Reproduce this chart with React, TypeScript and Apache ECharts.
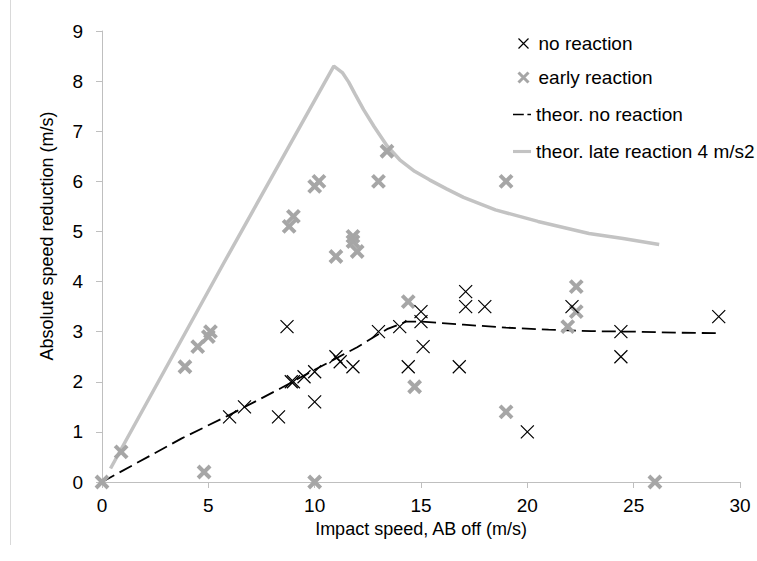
import React, { useEffect, useRef } from "react";
import * as echarts from "echarts";

const noReaction: [number, number][] = [
  [8.7, 3.1], [6.0, 1.3], [6.7, 1.5], [8.3, 1.3], [8.9, 2.0], [9.0, 2.0],
  [9.5, 2.1], [10.0, 2.2], [10.0, 1.6], [11.0, 2.5], [11.2, 2.4], [11.8, 2.3],
  [13.0, 3.0], [14.0, 3.1], [14.4, 2.3], [15.0, 3.4], [15.0, 3.2], [15.1, 2.7],
  [16.8, 2.3], [17.1, 3.8], [17.1, 3.5], [18.0, 3.5], [20.0, 1.0], [22.1, 3.5],
  [24.4, 3.0], [24.4, 2.5], [29.0, 3.3],
];

const earlyReaction: [number, number][] = [
  [0, 0], [0.9, 0.6], [3.9, 2.3], [4.5, 2.7], [5.0, 2.9], [5.1, 3.0], [4.8, 0.2],
  [8.8, 5.1], [9.0, 5.3], [10.0, 5.9], [10.2, 6.0], [11.0, 4.5], [11.8, 4.8],
  [11.8, 4.9], [12.0, 4.6], [13.0, 6.0], [13.4, 6.6], [14.4, 3.6], [14.7, 1.9],
  [19.0, 6.0], [19.0, 1.4], [21.9, 3.1], [22.3, 3.9], [22.3, 3.4], [10.0, 0],
  [26.0, 0],
];

const theorNoReaction: [number, number][] = [
  [0, 0], [3.75, 0.87], [6, 1.34], [8.4, 1.87], [10, 2.24], [12, 2.69],
  [13.4, 3.05], [14.3, 3.2], [15, 3.2], [17, 3.14], [19, 3.08], [21, 3.04],
  [23, 3.01], [25, 3.0], [27, 2.98], [28.9, 2.97],
];

const theorLateReaction: [number, number][] = [
  [0.4, 0.27], [5.7, 4.35], [10.9, 8.3], [11.3, 8.17], [11.6, 7.98], [11.9, 7.74],
  [12.3, 7.43], [12.8, 7.09], [13.4, 6.71], [14.0, 6.43], [14.7, 6.2], [15.4, 6.03],
  [16.2, 5.85], [17, 5.68], [18.5, 5.43], [20.5, 5.2], [22.9, 4.96], [24.5, 4.86],
  [26.2, 4.74],
];

const xTicks = { min: 0, max: 30, interval: 5 };
const yTicks = { min: 0, max: 9, interval: 1 };

const seriesNames = [
  "no reaction",
  "early reaction",
  "theor. no reaction",
  "theor. late reaction 4 m/s2",
];
const xTitle = "Impact speed, AB off (m/s)";
const yTitle = "Absolute speed reduction (m/s)";

const FONT = "'Liberation Sans', Arial, sans-serif";
const CROSS = "path://M0,0L10,10M10,0L0,10";
const DASH_ICON = "path://M0,0H12V1.8H0ZM16,0H20V1.8H16Z";
const SOLID_ICON = "path://M0,0H20V3.5H0Z";

export default function App() {
  const ref = useRef<HTMLDivElement>(null);
  useEffect(() => {
    document.body.style.margin = "0";
    if (!ref.current) return;
    const chart = echarts.init(ref.current, undefined, { renderer: "svg" });
    chart.setOption({
      animation: false,
      backgroundColor: "#ffffff",
      textStyle: { fontFamily: FONT },
      grid: { left: 102, right: 17, top: 31, bottom: 79 },
      legend: [
        {
          orient: "vertical",
          left: 512,
          top: 29,
          itemWidth: 20,
          itemHeight: 10,
          itemGap: 15,
          data: [
            { name: seriesNames[0], itemStyle: { borderWidth: 1.2, borderColor: "#000" } },
            { name: seriesNames[1], itemStyle: { borderWidth: 3, borderColor: "#a6a6a6" } },
          ],
          textStyle: { fontSize: 19, color: "#000", fontFamily: FONT },
        },
        {
          orient: "vertical",
          left: 508,
          top: 100,
          itemWidth: 18,
          itemHeight: 10,
          itemGap: 18,
          data: [
            { name: seriesNames[2], icon: DASH_ICON, itemStyle: { color: "#000", borderWidth: 0 } },
            { name: seriesNames[3], icon: SOLID_ICON, itemStyle: { color: "#c3c3c3", borderWidth: 0 } },
          ],
          textStyle: { fontSize: 19, color: "#000", fontFamily: FONT },
        },
      ],
      graphic: [
        {
          type: "line",
          shape: { x1: 10.5, y1: 0, x2: 10.5, y2: 545 },
          style: { stroke: "#d9d9d9", lineWidth: 1 },
        },
        {
          type: "text",
          x: 47,
          y: 236,
          rotation: Math.PI / 2,
          style: {
            text: yTitle,
            fontSize: 18,
            fontFamily: FONT,
            fill: "#000",
            align: "center",
            verticalAlign: "middle",
          },
        },
      ],
      xAxis: {
        type: "value",
        ...xTicks,
        name: xTitle,
        nameLocation: "middle",
        nameGap: 32,
        nameTextStyle: { fontSize: 18, color: "#000", fontFamily: FONT },
        splitLine: { show: false },
        axisLine: { show: true, lineStyle: { color: "#bfbfbf", width: 1 } },
        axisTick: { show: true, length: 6, lineStyle: { color: "#bfbfbf" } },
        axisLabel: { fontSize: 19, color: "#000", margin: 14, fontFamily: FONT },
      },
      yAxis: {
        type: "value",
        ...yTicks,
        splitLine: { show: false },
        axisLine: { show: true, lineStyle: { color: "#bfbfbf", width: 1 } },
        axisTick: { show: true, length: 6, lineStyle: { color: "#bfbfbf" } },
        axisLabel: { fontSize: 19, color: "#000", margin: 19, fontFamily: FONT },
      },
      series: [
        {
          name: seriesNames[3],
          type: "line",
          data: theorLateReaction,
          showSymbol: false,
          symbol: "none",
          clip: false,
          z: 1,
          itemStyle: { color: "#c3c3c3" },
          lineStyle: { color: "#c3c3c3", width: 3.5 },
        },
        {
          name: seriesNames[2],
          type: "line",
          data: theorNoReaction,
          showSymbol: false,
          symbol: "none",
          clip: false,
          z: 2,
          itemStyle: { color: "#000" },
          lineStyle: { color: "#000", width: 1.8, type: [14, 6] },
        },
        {
          name: seriesNames[1],
          type: "scatter",
          data: earlyReaction,
          symbol: CROSS,
          symbolSize: 12,
          clip: false,
          z: 3,
          itemStyle: { color: "#a6a6a6", borderColor: "#a6a6a6", borderWidth: 4, opacity: 1 },
        },
        {
          name: seriesNames[0],
          type: "scatter",
          data: noReaction,
          symbol: CROSS,
          symbolSize: 13,
          clip: false,
          z: 4,
          itemStyle: { color: "#000", borderColor: "#000", borderWidth: 1.2, opacity: 1 },
        },
      ],
    });
    return () => chart.dispose();
  }, []);
  return <div ref={ref} style={{ width: 757, height: 561 }} />;
}
